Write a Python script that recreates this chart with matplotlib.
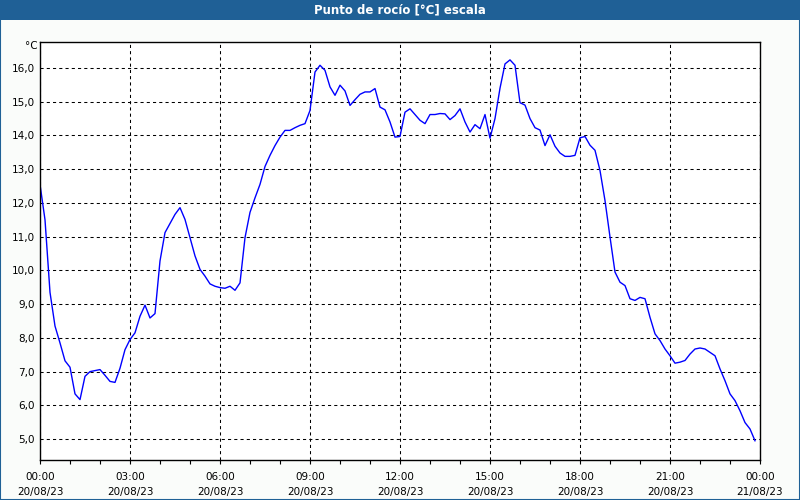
import numpy as np
import pandas as pd
import matplotlib
matplotlib.use("Agg")
import matplotlib.pyplot as plt
import matplotlib.dates as mdates
from matplotlib.patches import Rectangle

# Punto de rocio, una lectura cada 10 minutos desde 20/08/23 00:00
start = "2023-08-20 00:00"
dew = [12.55, 11.5, 9.35, 8.35, 7.85, 7.32, 7.13, 6.34, 6.17, 6.86,
       7.0, 7.03, 7.06, 6.89, 6.71, 6.68, 7.1, 7.65, 7.95, 8.15,
       8.64, 8.97, 8.59, 8.72, 10.28, 11.12, 11.39, 11.66, 11.86, 11.51,
       10.97, 10.43, 10.03, 9.83, 9.60, 9.53, 9.49, 9.47, 9.53, 9.41,
       9.63, 10.97, 11.72, 12.15, 12.55, 13.08, 13.41, 13.70, 13.95, 14.15,
       14.15, 14.23, 14.30, 14.35, 14.74, 15.88, 16.08, 15.93, 15.44, 15.19,
       15.49, 15.32, 14.89, 15.06, 15.22, 15.29, 15.29, 15.39, 14.84, 14.76,
       14.40, 13.95, 13.97, 14.69, 14.79, 14.62, 14.45, 14.35, 14.62, 14.62,
       14.65, 14.64, 14.47, 14.59, 14.79, 14.40, 14.10, 14.32, 14.20, 14.62,
       13.92, 14.5, 15.4, 16.12, 16.24, 16.08, 14.97, 14.9, 14.5, 14.23,
       14.16, 13.7, 14.02, 13.68, 13.48, 13.38, 13.38, 13.41, 13.93, 13.97,
       13.71, 13.56, 12.96, 12.07, 10.99, 9.95, 9.65, 9.55, 9.16, 9.11,
       9.2, 9.16, 8.61, 8.12, 7.92, 7.67, 7.47, 7.25, 7.28, 7.33,
       7.52, 7.67, 7.70, 7.67, 7.57, 7.47, 7.08, 6.73, 6.34, 6.14,
       5.84, 5.49, 5.30, 4.95]
y_ticks = [5, 6, 7, 8, 9, 10, 11, 12, 13, 14, 15, 16]
title = "Punto de rocío [°C] escala"

times = pd.date_range(start, periods=len(dew), freq="10min")

fig = plt.figure(figsize=(8, 5), dpi=100, facecolor="#fafcfa")

# barra de titulo y marco
fig.patches.append(Rectangle((0, 0.96), 1, 0.04, transform=fig.transFigure,
                             facecolor="#1f6096", edgecolor="none", zorder=0))
fig.patches.append(Rectangle((0.0006, 0.001), 0.9988, 0.998, transform=fig.transFigure,
                             facecolor="none", edgecolor="#1f6096", lw=1.5, zorder=1))
fig.text(0.5, 0.98, title, color="white", fontsize=8.5, fontweight="bold",
         ha="center", va="center")

ax = fig.add_axes([0.05, 0.08, 0.90, 0.836])
ax.set_facecolor("white")
ax.plot(times, dew, color="#0000ff", lw=1.0)

ax.set_xlim(pd.Timestamp("2023-08-20 00:00"), pd.Timestamp("2023-08-21 00:00"))
ax.set_ylim(4.38, 16.77)

ax.xaxis.set_major_locator(mdates.HourLocator(byhour=range(0, 24, 3)))
ax.xaxis.set_minor_locator(mdates.HourLocator())
ax.xaxis.set_major_formatter(mdates.DateFormatter("%H:%M\n%d/%m/%y"))
ax.set_yticks(y_ticks)
ax.set_yticklabels([f"{v:.1f}".replace(".", ",") for v in y_ticks])

ax.tick_params(axis="x", which="both", direction="out", length=3, width=0.8,
               labelsize=7.5, pad=6)
ax.tick_params(axis="y", length=0, labelsize=7.5, pad=4)
for lbl in ax.get_xticklabels():
    lbl.set_linespacing(1.6)

ax.grid(True, which="major", color="black", lw=0.75, ls=(0, (3, 3)))
for s in ax.spines.values():
    s.set_color("black")
    s.set_linewidth(1.0)

fig.text(0.047, 0.908, "°C", fontsize=7.5, ha="right", va="center")

fig.savefig("out.png", dpi=100, facecolor=fig.get_facecolor())
